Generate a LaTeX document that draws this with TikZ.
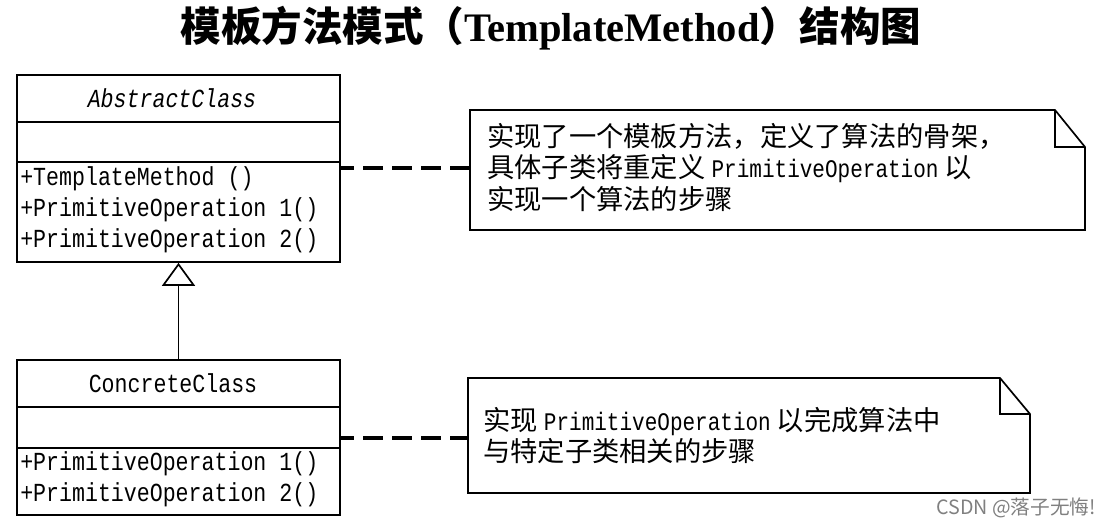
\documentclass[tikz,border=0pt]{standalone}
\usepackage{fontspec}
\setmainfont{Liberation Serif}
\setmonofont[FakeStretch=0.83]{Liberation Mono}
\newfontfamily\cjk{Noto Sans CJK SC}
\usetikzlibrary{arrows.meta}

\newcommand{\tm}[1]{{\ttfamily\fontsize{18}{22.4}\selectfont #1}}

\begin{document}
\begin{tikzpicture}[
        x=0.025cm, y=-0.025cm,
        classbox/.style={draw, line width=1.2pt, minimum width=8.075cm, inner sep=0pt},
        member/.style={anchor=west, inner sep=0pt, font=\ttfamily\fontsize{18.5}{22}\selectfont},
        notetext/.style={anchor=north west, inner sep=0pt, align=left, font=\cjk\fontsize{19.4}{22.4}\selectfont},
        noteline/.style={line width=1.2pt, line join=miter},
        dashline/.style={line width=2.8pt, dash pattern=on 14.2pt off 6.4pt, dash phase=4pt}
    ]

    \useasboundingbox (0,0) rectangle (1107,526);

    % Title
    \node[font=\bfseries\fontsize{28.8}{30}\selectfont] (title) at (551,28)
        {{\cjk 模板方法模式（}TemplateMethod{\cjk ）结构图}};

    % AbstractClass
    \node[classbox, minimum height=4.675cm] (abs) at (178.5,168.5) {};
    \draw[line width=1.2pt] (17,122) -- (340,122);
    \draw[line width=1.2pt] (17,162) -- (340,162);
    \node[font=\ttfamily\itshape\fontsize{18.5}{22}\selectfont] (absname) at (172,98) {AbstractClass};
    \node[member] (absop0) at (20,179) {+TemplateMethod ()};
    \foreach \k/\y in {1/210, 2/241}
        \node[member] (absop\k) at (20,\y) {+PrimitiveOperation \k()};

    % ConcreteClass
    \node[classbox, minimum height=3.875cm] (con) at (178.5,437.5) {};
    \draw[line width=1.2pt] (17,407) -- (340,407);
    \draw[line width=1.2pt] (17,448) -- (340,448);
    \node[font=\ttfamily\fontsize{18.5}{22}\selectfont] (conname) at (173,383) {ConcreteClass};
    \foreach \k/\y in {1/464, 2/495}
        \node[member] (conop\k) at (20,\y) {+PrimitiveOperation \k()};

    % Generalization
    \draw[line width=0.8pt, -{Triangle[open, length=16.3pt, width=23.4pt, line width=1.2pt]}]
        (con.north) -- (abs.south);

    % Note 1
    \draw[noteline] (470,110) -- (1055,110) -- (1085,147) -- (1085,230) -- (470,230) -- cycle;
    \draw[noteline] (1055,110) -- (1055,147) -- (1085,147);
    \node[notetext] (n1) at (487,123)
        {实现了一个模板方法，定义了算法的骨架，\\
         具体子类将重定义 \tm{PrimitiveOperation} 以\\
         实现一个算法的步骤};

    % Note 2
    \draw[noteline] (468,378) -- (1000,378) -- (1030,414) -- (1030,493) -- (468,493) -- cycle;
    \draw[noteline] (1000,378) -- (1000,414) -- (1030,414);
    \node[notetext] (n2) at (483,407)
        {实现 \tm{PrimitiveOperation} 以完成算法中\\
         与特定子类相关的步骤};

    % Dashed links
    \coordinate (absR) at (340,168);
    \coordinate (n1W) at (470,168);
    \coordinate (conR) at (340,438);
    \coordinate (n2W) at (468,438);
    \draw[dashline] (absR) -- (n1W);
    \draw[dashline] (conR) -- (n2W);

    % Watermark
    \node[anchor=east, text=gray, font=\cjk\fontsize{14}{16}\selectfont] (mark) at (1101,508)
        {CSDN @落子无悔!};

\end{tikzpicture}
\end{document}
